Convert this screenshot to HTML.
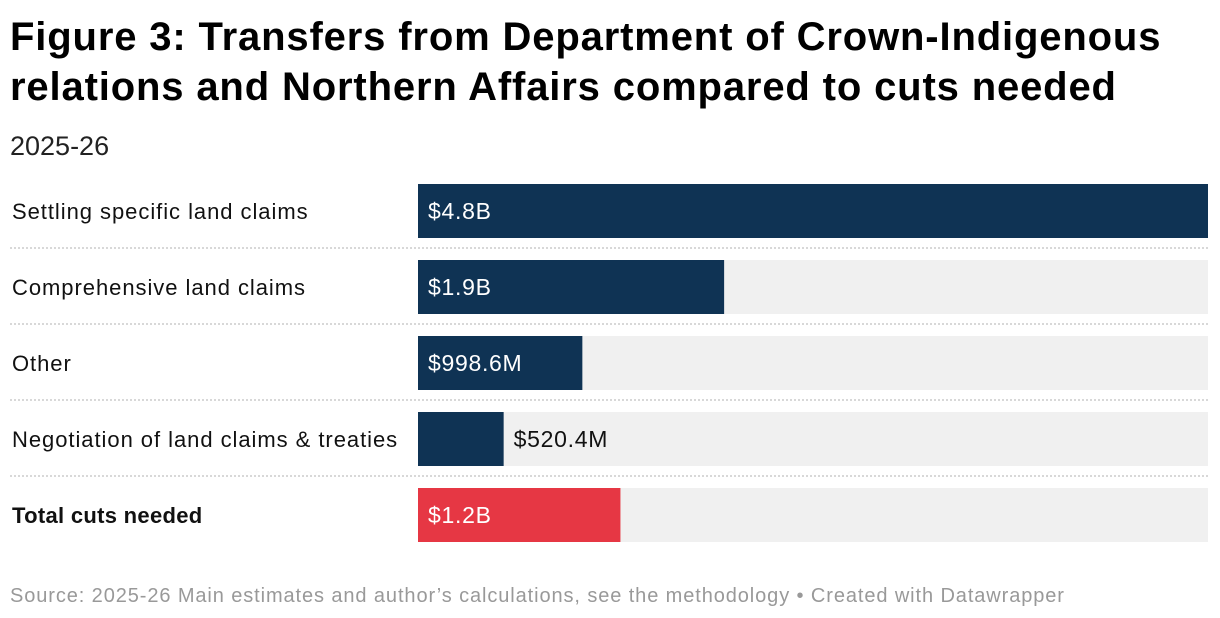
<!DOCTYPE html>
<html><head><meta charset="utf-8">
<style>
body{margin:0;width:1220px;height:618px;background:#fff;font-family:"Liberation Sans",sans-serif;overflow:hidden;position:relative}
.t{position:absolute;left:10px;top:12px;font-size:40px;letter-spacing:0.85px;font-weight:bold;line-height:50px;color:#000;margin:0}
.sub{position:absolute;left:10px;top:131px;font-size:27px;color:#222}
.foot{position:absolute;left:10px;top:585px;font-size:20px;letter-spacing:0.9px;color:#999}
</style></head><body>
<h1 class="t">Figure 3: Transfers from Department of Crown-Indigenous<br>relations and Northern Affairs compared to cuts needed</h1>
<div class="sub">2025-26</div>
<svg id="chart" width="1220" height="618" style="position:absolute;left:0;top:0"></svg>
<div class="foot">Source: 2025-26 Main estimates and author’s calculations, see the methodology • Created with Datawrapper</div>
<script>
const categories=["Settling specific land claims","Comprehensive land claims","Other","Negotiation of land claims & treaties","Total cuts needed"];
const values=[4800,1860,998.6,520.4,1230];
const valueLabels=["$4.8B","$1.9B","$998.6M","$520.4M","$1.2B"];
const maxValue=4800;
const svg=document.getElementById('chart');
const NS='http://www.w3.org/2000/svg';
const x0=418,W=790,top0=184,step=76,bh=54;
const xs=v=>W*v/maxValue;
function mk(t,a){const e=document.createElementNS(NS,t);for(const k in a)e.setAttribute(k,a[k]);svg.appendChild(e);return e;}
categories.forEach((c,i)=>{
  const y=top0+i*step;
  const bg=mk('rect',{x:x0,y:y,width:W,height:bh,fill:'#f0f0f0'});
  
  
  const last=i===categories.length-1;
  const w=xs(values[i]);
  const b=mk('rect',{x:x0,y:y,width:w,height:bh,fill:last?'#e63744':'#0f3354'});
  
  
  const lab=mk('text',{x:12,y:y+bh/2+8,'font-size':22,'letter-spacing':last?0.3:0.95,fill:'#111','font-weight':last?'bold':'normal'});
  lab.textContent=c;
  
  
  const inside=w>120;
  const vl=mk('text',{x:inside?x0+10:x0+w+10,y:y+bh/2+8,'font-size':23,'letter-spacing':0.7,fill:inside?'#fff':'#111'});
  vl.textContent=valueLabels[i];
  
  
  if(!last){
    const l=mk('line',{x1:10,x2:1208,y1:y+bh+10,y2:y+bh+10,stroke:'#ccc','stroke-width':1.5,'stroke-dasharray':'2,2'});
    
    
  }
});
</script>
</body></html>
